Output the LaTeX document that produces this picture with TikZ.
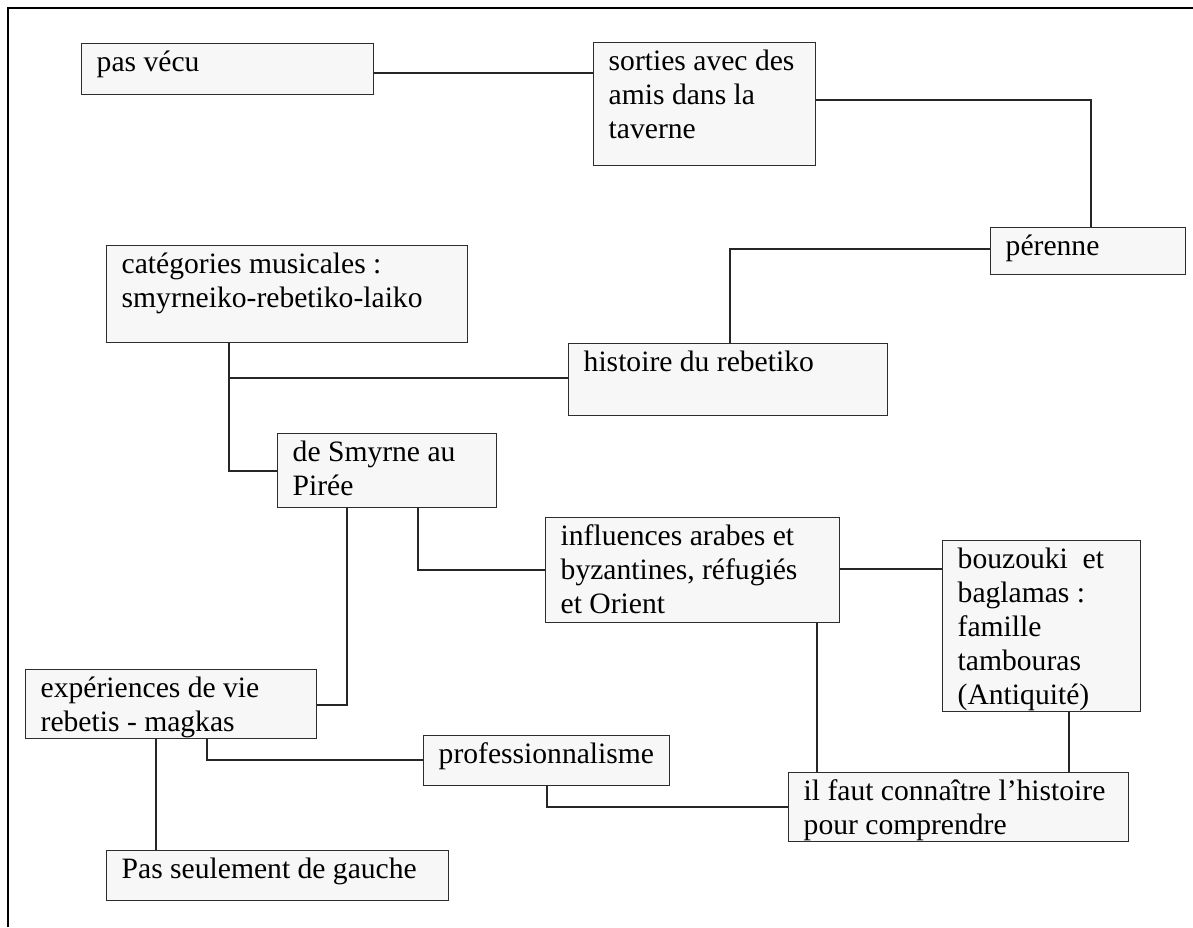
\documentclass[tikz,border=0pt]{standalone}
\usepackage{fontspec}
\setmainfont{Liberation Serif}
\usetikzlibrary{positioning}
\definecolor{boxfill}{RGB}{247,247,247}
\definecolor{boxline}{RGB}{45,45,45}
\newcommand{\boxtxt}[3]{\parbox[t][#2pt][t]{#1pt}{\raggedright\strut #3}}
\tikzset{
  cbox/.style={draw=boxline, fill=boxfill, line width=1.4pt, anchor=north west,
    inner xsep=15pt, inner ysep=4pt, font=\fontsize{29.6}{34}\selectfont},
  link/.style={draw=black!85, line width=1.1pt}
}

\begin{document}
\begin{tikzpicture}[x=1pt, y=-1pt]
    \useasboundingbox (0,0) rectangle (1193,927);
    % page frame
    \draw[line width=2pt] (8,927) -- (8,8) -- (1193,8);

    \node[cbox] (pasvecu)  at (81,43)   {\boxtxt{262}{43}{pas vécu}};
    \node[cbox] (sorties)  at (593,42)  {\boxtxt{192}{115}{sorties avec des\\ amis dans la\\ taverne}};
    \node[cbox] (perenne)  at (990,227) {\boxtxt{165}{39}{pérenne}};
    \node[cbox] (histoire) at (568,343) {\boxtxt{289}{64}{histoire du rebetiko}};
    \node[cbox] (categ)    at (106,245) {\boxtxt{331}{89}{catégories musicales :\\ smyrneiko-rebetiko-laiko}};
    \node[cbox] (smyrne)   at (277,433) {\boxtxt{189}{66}{de Smyrne au\\ Pirée}};
    \node[cbox] (influ)    at (545,517) {\boxtxt{264}{97}{influences arabes et\\ byzantines, réfugiés\\ et Orient}};
    \node[cbox] (bouz)     at (942,540) {\boxtxt{168}{163}{bouzouki\ \ et\\ baglamas :\\ famille\\ tambouras\\ (Antiquité)}};
    \node[cbox] (exper)    at (25,669)  {\boxtxt{261}{61}{expériences de vie\\ rebetis - magkas}};
    \node[cbox] (prof)     at (423,735) {\boxtxt{216}{42}{professionnalisme}};
    \node[cbox] (ilfaut)   at (788,772) {\boxtxt{310}{61}{il faut connaître l’histoire\\ pour comprendre}};
    \node[cbox] (passeul)  at (106,850) {\boxtxt{312}{42}{Pas seulement de gauche}};

    \coordinate (fork) at (229,378);

    \draw[link] (pasvecu.east |- 0,73) -- (sorties.west |- 0,73);
    \draw[link] (sorties.east |- 0,100) -| (perenne.north -| 1091,0);
    \draw[link] (perenne.west |- 0,249) -| (histoire.north -| 730,0);
    \draw[link] (categ.south -| 229,0) |- (smyrne.west |- 0,471);
    \draw[link] (fork) -- (histoire.west |- fork);
    \draw[link] (smyrne.south -| 418,0) |- (influ.west |- 0,570);
    \draw[link] (smyrne.south -| 347,0) |- (exper.east |- 0,705);
    \draw[link] (influ.east |- 0,569) -- (bouz.west |- 0,569);
    \draw[link] (influ.south -| 817,0) -- (ilfaut.north -| 817,0);
    \draw[link] (bouz.south -| 1069,0) -- (ilfaut.north -| 1069,0);
    \draw[link] (exper.south -| 207,0) |- (prof.west |- 0,760);
    \draw[link] (exper.south -| 156,0) -- (passeul.north -| 156,0);
    \draw[link] (prof.south -| 547,0) |- (ilfaut.west |- 0,807);
\end{tikzpicture}
\end{document}
